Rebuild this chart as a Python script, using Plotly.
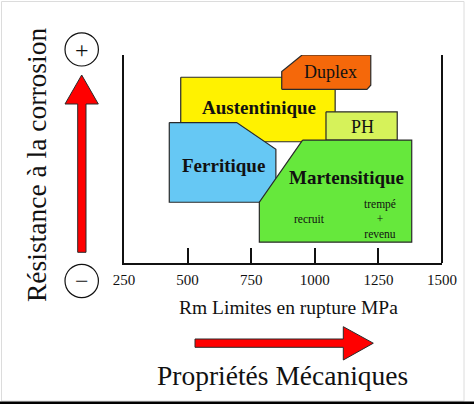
import plotly.graph_objects as go

# ---- data (Rm in MPa, corrosion resistance in arbitrary units 0-10) ----
families = ["Austentinique", "Duplex", "PH", "Ferritique", "Martensitique"]
aus_x = [473, 1080, 1080, 473]
aus_y = [8.93, 8.93, 5.83, 5.83]
dup_x = [870, 870, 950, 1220, 1220, 1205]
dup_y = [8.35, 9.2, 10.0, 10.0, 8.55, 8.35]
ph_x = [1044, 1324, 1324, 1044]
ph_y = [7.27, 7.27, 5.91, 5.91]
fer_x = [428, 693, 847, 847, 428]
fer_y = [6.75, 6.75, 5.47, 2.92, 2.92]
mar_x = [952, 1381, 1381, 782, 782]
mar_y = [5.91, 5.91, 1.0, 1.0, 2.92]
colors = ["#fff200", "#f5680a", "#d6f25a", "#66c8f4", "#66e83c"]

label_x = [782, 1060, 1188, 640, 1123]
label_y = [7.47, 9.17, 6.52, 4.68, 4.10]
label_bold = [True, False, False, True, True]

sub_labels = ["recruit", "trempé<br>+<br>revenu"]
sub_x = [981, 1256]
sub_y = [2.10, 2.10]

tick_vals = [250, 500, 750, 1000, 1250, 1500]
tick_text = ["250", "500", "750", "1000", "1250", "1500"]

x_title = "Rm Limites en rupture MPa"
y_title = "Résistance à la corrosion"
bottom_title = "Propriétés Mécaniques"

# ---- layout geometry ----
FW, FH = 474, 404
L, R, T, B = 124, 32, 55, 141
W = FW - L - R
H = FH - T - B
SERIF = "Liberation Serif, Times New Roman, serif"


def px(x):
    return (x - L) / W


def py(y):
    return (FH - B - y) / H


fig = go.Figure()
xs = [aus_x, dup_x, ph_x, fer_x, mar_x]
ys = [aus_y, dup_y, ph_y, fer_y, mar_y]
for name, x, y, c in zip(families, xs, ys, colors):
    fig.add_trace(go.Scatter(
        x=x + [x[0]], y=y + [y[0]], mode="lines", fill="toself",
        fillcolor=c, line=dict(color="#2a2a2a", width=1.2),
        name=name, hoverinfo="name", showlegend=False))

annotations = []
for name, x, y, b in zip(families, label_x, label_y, label_bold):
    annotations.append(dict(
        x=x, y=y, xref="x", yref="y", showarrow=False,
        xanchor="center", yanchor="middle",
        text=f"<b>{name}</b>" if b else name,
        font=dict(family=SERIF, size=19 if b else 18, color="#111")))
for t, x, y in zip(sub_labels, sub_x, sub_y):
    annotations.append(dict(
        x=x, y=y, xref="x", yref="y", showarrow=False, text=t,
        xanchor="center", yanchor="middle",
        font=dict(family=SERIF, size=11.5, color="#111")))


def pann(x, y, text, size, angle=0):
    return dict(x=px(x), y=py(y), xref="paper", yref="paper",
                showarrow=False, text=text, textangle=angle,
                xanchor="center", yanchor="middle",
                font=dict(family=SERIF, size=size, color="#111"))


annotations += [
    pann(288, 307, x_title, 19.5),
    pann(282, 375, bottom_title, 27.5),
    pann(36, 165, y_title, 27.5, -90),
    pann(81.7, 49.5, "+", 24),
    pann(81.7, 281, "−", 24),
]


def path(points):
    return "M " + " L ".join(f"{px(a)},{py(b)}" for a, b in points) + " Z"


shapes = [
    # frame
    dict(type="rect", xref="paper", yref="paper", x0=px(1.5), x1=px(464),
         y0=py(401), y1=py(1.5), line=dict(color="#dcdcdc", width=1)),
    dict(type="rect", xref="paper", yref="paper", x0=px(0), x1=px(474),
         y0=py(404), y1=py(401.5), fillcolor="#000", line=dict(width=0)),
    # right vertical axis line
    dict(type="line", xref="paper", yref="paper", x0=1, x1=1, y0=0, y1=1,
         line=dict(color="#111", width=2)),
    # circles
    dict(type="circle", xref="paper", yref="paper",
         x0=px(65), x1=px(98.4), y0=py(32.8), y1=py(66),
         line=dict(color="#111", width=1.2)),
    dict(type="circle", xref="paper", yref="paper",
         x0=px(65), x1=px(98.4), y0=py(264.3), y1=py(297.6),
         line=dict(color="#111", width=1.2)),
    # vertical arrow
    dict(type="path", xref="paper", yref="paper",
         path=path([(77.7, 252.3), (86, 252.3), (86, 104), (98.3, 104),
                    (81.7, 75), (65, 104), (77.7, 104)]),
         fillcolor="#ff0000", line=dict(color="#2a2a2a", width=1)),
    # horizontal arrow
    dict(type="path", xref="paper", yref="paper",
         path=path([(195, 339), (343.3, 339), (343.3, 326.7), (373.3, 343.2),
                    (343.3, 360), (343.3, 347.3), (195, 347.3)]),
         fillcolor="#ff0000", line=dict(color="#2a2a2a", width=1)),
]

fig.update_layout(
    width=FW, height=FH, margin=dict(l=L, r=R, t=T, b=B),
    paper_bgcolor="white", plot_bgcolor="white",
    annotations=annotations, shapes=shapes,
    xaxis=dict(range=[250, 1500], tickvals=tick_vals, ticktext=tick_text,
               ticks="inside", ticklen=15, tickwidth=1.5, tickcolor="#111",
               showline=True, linecolor="#111", linewidth=2,
               showgrid=False, zeroline=False, fixedrange=True,
               ticklabelstandoff=2,
               tickfont=dict(family=SERIF, size=15, color="#111")),
    yaxis=dict(range=[0, 10], showticklabels=False, ticks="",
               showline=True, linecolor="#111", linewidth=2,
               showgrid=False, zeroline=False, fixedrange=True),
)
fig.write_html("out.html", config={"displayModeBar": False},
               post_script="document.body.style.margin='0';"
                           "document.body.style.overflow='hidden';")
